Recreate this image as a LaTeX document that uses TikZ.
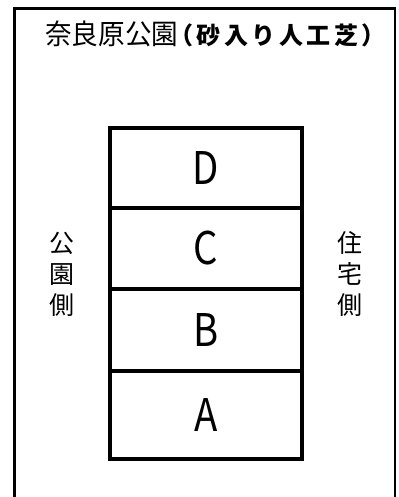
\documentclass[tikz,border=0pt]{standalone}
\usepackage{fontspec}
\setmainfont{Noto Sans CJK JP}
\newcommand{\tch}[1]{\makebox[27.5bp][l]{#1}}
\begin{document}
\begin{tikzpicture}[x=1bp,y=-1bp,
  zone/.style={draw=black,line width=3.2bp,minimum width=192bp,inner sep=0pt,
    font=\fontsize{45bp}{45bp}\selectfont},
  side/.style={align=center,inner sep=0pt,font=\fontsize{25bp}{31bp}\selectfont}]
\useasboundingbox (0,0) rectangle (398,497);
% outer frame (open at bottom)
\draw[line width=3bp] (14,497) -- (14,8.5) -- (395,8.5);
\draw[line width=1.4bp] (395,7) -- (395,497);
% title
\node[anchor=base west,inner sep=0pt] (title) at (45,45)
  {\scalebox{0.95}[1]{\fontsize{28bp}{28bp}\selectfont 奈良原公園}\hspace{-9bp}%
   {\fontsize{24bp}{24bp}\selectfont\bfseries\tch{（}\tch{砂}\tch{入}\tch{り}\tch{人}\tch{工}\tch{芝}\makebox[24bp][l]{）}}};
% zones
\node[zone,minimum height=80bp] (D) at (206,168) {\scalebox{0.85}[1]{D}};
\node[zone,minimum height=81bp] (C) at (206,248.5) {\scalebox{0.85}[1]{C}};
\node[zone,minimum height=82bp] (B) at (206,330) {\scalebox{0.85}[1]{B}};
\node[zone,minimum height=88bp] (A) at (206,415) {\scalebox{0.85}[1]{A}};
% side labels
\node[side] (park) at (62,274) {公\\園\\側};
\node[side] (house) at (350,274) {住\\宅\\側};
\end{tikzpicture}
\end{document}
